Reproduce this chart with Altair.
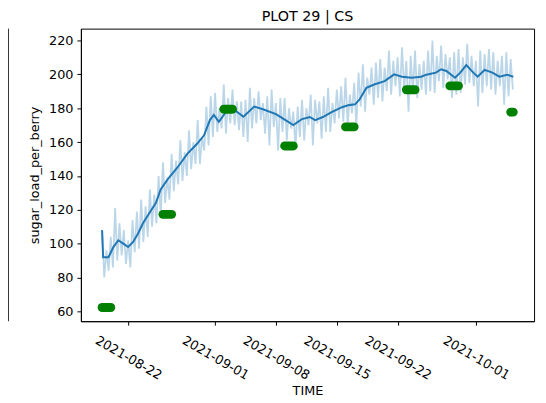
import altair as alt
import pandas as pd

START = pd.Timestamp("2021-08-19")

# smoothed (rolling mean) series: day offset from 2021-08-19, value
smooth_days = [0, 0.12, 0.74, 1.3, 1.87, 2.44, 3.0, 3.57, 4.14, 4.7,
               5.5, 6.18, 6.74, 7.54, 8.67, 9.8, 10.93, 11.73, 12.4, 12.86,
               13.43, 14.0, 14.33, 15.13, 16.26, 17.5, 18.5, 20.0, 21.1, 22.0,
               23.0, 23.9, 24.5, 25.4, 26.4, 27.6, 28.3, 29.1, 29.6, 30.4,
               31.3, 32.5, 33.6, 34.5, 35.6, 36.7, 37.3, 38.4, 39.0, 39.6,
               40.6, 41.2, 41.9, 42.7, 43.2, 44.0, 44.9, 45.7, 46.6, 47.3]
smooth_vals = [108, 92, 92, 98, 102, 100, 98, 101, 106, 112,
               118.5, 124, 132, 138, 145, 153, 159, 164, 173, 176,
               172, 176, 178.5, 179.4, 175, 181, 179.4, 176.5, 173, 170,
               173.6, 174.8, 173, 174.8, 177.7, 180.6, 181.7, 182.3, 185, 192,
               194, 196, 200, 198.6, 198, 198.6, 199.8, 201, 203, 202,
               198, 201, 205.5, 201, 198.6, 202.6, 201, 198.6, 199.8, 198.6]

# raw readings, every 6 hours from 2021-08-19 00:00
raw_step_days = 0.25
raw_vals = [
    108, 80, 96, 84,   104, 86, 121, 90,   112, 93, 108, 88,   102, 86, 114, 95,
    119, 97, 126, 101, 122, 104, 132, 110, 129, 112, 140, 117, 148, 124, 139, 126,
    153, 131, 149, 135, 161, 137, 154, 140, 167, 144, 160, 147, 173, 147, 163, 155,
    181, 158, 187, 163, 189, 166, 180, 168, 194, 165, 186, 171, 191, 170, 184, 167,
    184, 163, 185, 160, 192, 168, 186, 171, 190, 173, 183, 165, 187, 158, 191, 169,
    183, 155, 186, 166, 186, 161, 180, 168, 178, 157, 181, 163, 185, 161, 180, 170,
    188, 158, 185, 171, 184, 162, 187, 166, 192, 166, 183, 171, 191, 174, 193, 172,
    198, 170, 188, 177, 195, 169, 201, 181, 206, 178, 198, 188, 204, 182, 207, 186,
    209, 184, 204, 190, 214, 188, 208, 193, 210, 187, 216, 191, 208, 178, 211, 189,
    214, 186, 206, 191, 208, 188, 214, 190, 220, 189, 211, 196, 217, 192, 212, 197,
    210, 186, 213, 188, 215, 189, 210, 194, 218, 195, 211, 193, 208, 181, 214, 189,
    212, 193, 215, 191, 213, 188, 208, 193, 211, 182, 213, 187, 209, 191,
]

# lab measurements (green), start/end day offsets and value
green_start_days = [0, 7, 14, 21, 28, 35, 40, 47]
green_end_days = [1, 8, 15, 22, 29, 36, 41, 47.3]
green_vals = [62.3, 117.3, 179.4, 157.7, 169, 190.9, 193.2, 177.7]

y_ticks = [60, 80, 100, 120, 140, 160, 180, 200, 220]
x_tick_dates = [(2021, 8, 22), (2021, 9, 1), (2021, 9, 8), (2021, 9, 15),
                (2021, 9, 22), (2021, 10, 1)]


def ts(days):
    return (START + pd.to_timedelta(days, unit="D")).strftime("%Y-%m-%dT%H:%M:%S")


raw_df = pd.DataFrame({
    "time": [ts(i * raw_step_days) for i in range(len(raw_vals))],
    "value": raw_vals,
})
smooth_df = pd.DataFrame({"time": [ts(d) for d in smooth_days], "value": smooth_vals})
green_df = pd.DataFrame({
    "time": [ts(d) for d in green_start_days],
    "t1": [ts(d) for d in green_end_days],
    "value": green_vals,
})

x_scale = alt.Scale(domain=[alt.DateTime(year=2021, month=8, date=16, hours=13, minutes=32),
                            alt.DateTime(year=2021, month=10, date=7, hours=16, minutes=34)])
y_scale = alt.Scale(domain=[54.2, 227.0], nice=False, zero=False)

x_axis = alt.Axis(values=[alt.DateTime(year=y, month=m, date=d) for (y, m, d) in x_tick_dates],
                  format="%Y-%m-%d", labelAngle=30, labelAlign="center",
                  labelBaseline="middle", labelPadding=33, labelOverlap=False,
                  labelFlush=False, title="TIME", titlePadding=2)
y_axis = alt.Axis(values=y_ticks, title="sugar_load_per_berry", titlePadding=7,
                  labelPadding=4, labelOverlap=False, labelFlush=False)

x_enc = alt.X("time:T", scale=x_scale, axis=x_axis)
y_enc = alt.Y("value:Q", scale=y_scale, axis=y_axis)

raw = alt.Chart(raw_df).mark_line(color="#1f77b4", opacity=0.3, strokeWidth=1.8).encode(
    x=x_enc, y=y_enc)
smooth = alt.Chart(smooth_df).mark_line(color="#1f77b4", strokeWidth=2).encode(
    x=x_enc, y=y_enc)
green = alt.Chart(green_df).mark_rule(color="#008000", strokeWidth=9, strokeCap="round").encode(
    x=x_enc, x2="t1:T", y=y_enc)
frame = alt.Chart(pd.DataFrame({"a": [0]})).mark_rule(color="#333333", strokeWidth=1).encode(
    x=alt.value(-73.5), y=alt.value(0), y2=alt.value(297))

chart = alt.layer(raw, smooth, green, frame).properties(
    width=460,
    height=297,
    title=alt.TitleParams("PLOT 29 | CS", fontSize=14.5, fontWeight="normal",
                          font="DejaVu Sans", color="black", anchor="middle",
                          offset=4),
    autosize=alt.AutoSizeParams(type="none"),
    padding={"left": 74, "top": 18, "right": 4, "bottom": 74},
).configure_view(stroke="black", strokeWidth=1).configure_axis(
    domainColor="black", tickColor="black", labelColor="black", titleColor="black",
    labelFont="DejaVu Sans", titleFont="DejaVu Sans", labelFontSize=13,
    titleFontSize=13, titleFontWeight="normal", tickSize=4, grid=False,
    labelOverlap=False,
)

chart.save("out.html", embed_options={"renderer": "svg", "actions": False})
